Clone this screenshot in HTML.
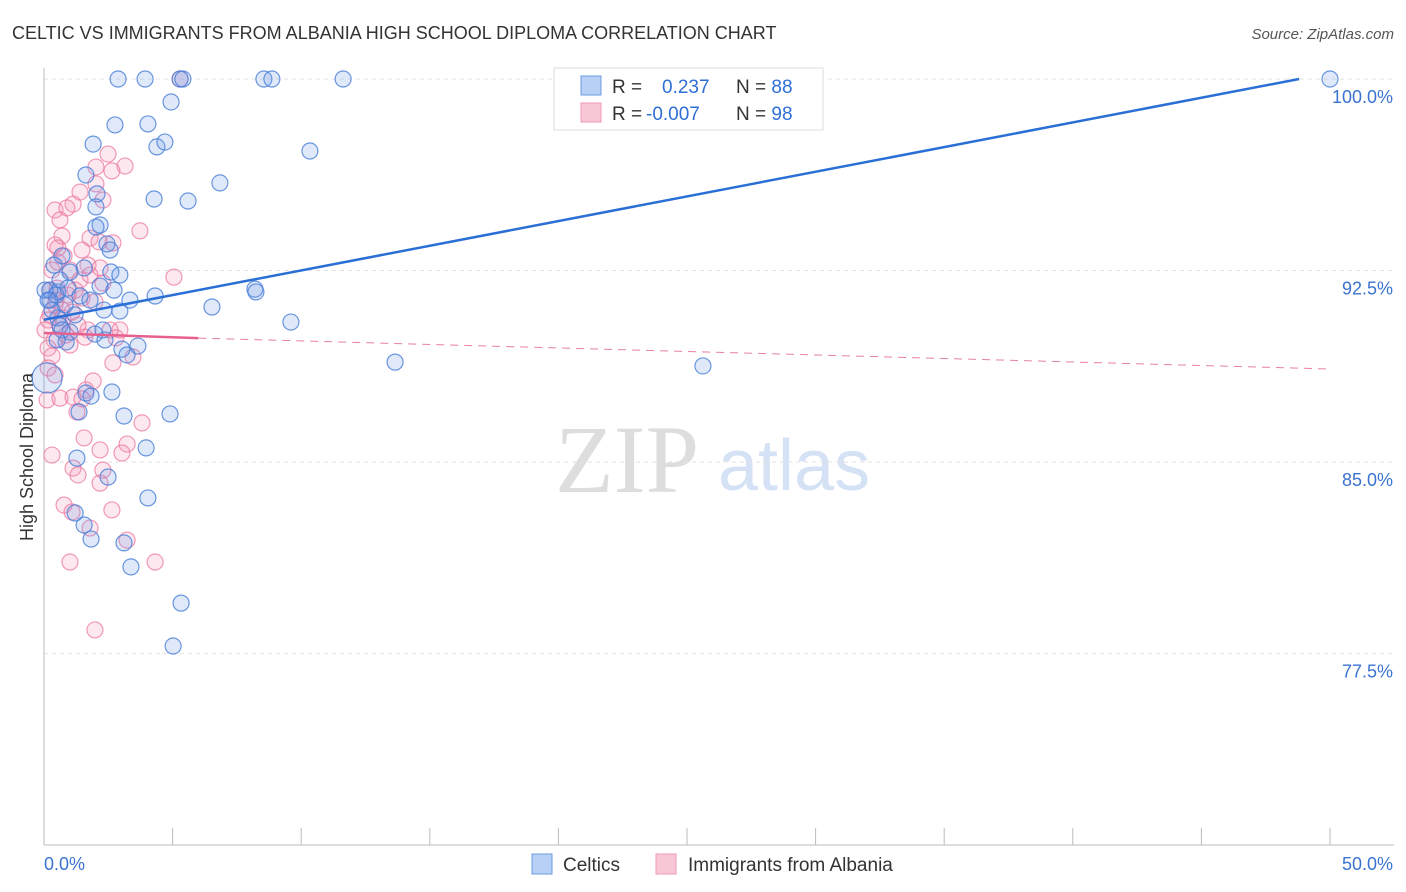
<!DOCTYPE html>
<html><head><meta charset="utf-8">
<style>
body{margin:0;background:#fff;font-family:"Liberation Sans",sans-serif;}
#wrap{position:relative;width:1406px;height:892px;overflow:hidden;}
</style></head>
<body>
<div id="wrap">
<svg id="svg" width="1406" height="892" xmlns="http://www.w3.org/2000/svg">
<text x="12" y="39" font-size="18" fill="#333">CELTIC VS IMMIGRANTS FROM ALBANIA HIGH SCHOOL DIPLOMA CORRELATION CHART</text>
<text x="1394" y="39" font-size="15" fill="#555" text-anchor="end" font-style="italic">Source: ZipAtlas.com</text>
<text x="33" y="457" font-size="18" fill="#333" text-anchor="middle" transform="rotate(-90 33 457)">High School Diploma</text>
<text x="555" y="492" font-size="96" fill="#ddd" font-family="Liberation Serif,serif">ZIP</text>
<text x="718" y="490" font-size="72" fill="#d5e2f5">atlas</text>
<g id="grid"></g><g id="axes"></g><g id="pts"></g><g id="trend"></g>
<g>
<rect x="554" y="68" width="269" height="62" fill="#fff" stroke="#ddd"/>
<rect x="581" y="76" width="20" height="19" fill="#b8d0f5" stroke="#6a9be0"/>
<rect x="581" y="103" width="20" height="19" fill="#f9c6d6" stroke="#ef9ab8"/>
<text x="612" y="93" font-size="19" fill="#333">R = <tspan x="662" fill="#2f6fd6">0.237</tspan><tspan x="736" fill="#333">N = </tspan><tspan fill="#2f6fd6">88</tspan></text>
<text x="612" y="120" font-size="19" fill="#333">R = <tspan x="646" fill="#2f6fd6">-0.007</tspan><tspan x="736" fill="#333">N = </tspan><tspan fill="#2f6fd6">98</tspan></text>
</g>
<g>
<rect x="532" y="854" width="20" height="20" fill="#b8d0f5" stroke="#6a9be0"/>
<text x="563" y="871" font-size="19" fill="#333">Celtics</text>
<rect x="656" y="854" width="20" height="20" fill="#f9c6d6" stroke="#ef9ab8"/>
<text x="688" y="871" font-size="19" fill="#333">Immigrants from Albania</text>
</g>
</svg>
</div>
<script>
const yTicks=[100,92.5,85,77.5];
const yTickLabels=["100.0%","92.5%","85.0%","77.5%"];
const xTicks=[0,5,10,15,20,25,30,35,40,45,50];
const blueX=[2.88,3.93,5.29,5.40,8.55,8.86,11.63,50,4.94,2.76,4.04,1.91,4.39,4.70,10.34,1.63,6.84,2.06,4.28,5.60,2.02,2.18,2.02,2.45,2.57,0.70,0.39,1.56,1.01,2.60,2.95,2.18,0.23,0.54,2.72,4.32,3.34,8.20,8.24,6.53,2.33,2.95,9.60,0.62,1.01,2.29,1.98,0.86,2.37,3.03,3.65,3.23,13.65,25.62,1.63,1.83,2.64,1.36,3.11,4.90,1.28,3.97,2.49,4.04,1.56,1.21,1.83,3.11,3.38,5.33,5.02,0.23,0.47,0.82,1.21,0.54,0.31,0.04,0.16,0.62,0.93,1.40,1.79,0.70,0.51,0.12];
const blueY=[100,100,100,100,100,100,100,100,99.10,98.20,98.24,97.45,97.34,97.53,97.18,96.24,95.93,95.50,95.30,95.22,94.99,94.28,94.20,93.54,93.30,93.07,92.71,92.60,92.44,92.44,92.32,91.89,91.73,91.66,91.73,91.50,91.34,91.77,91.66,91.07,90.95,90.91,90.48,90.33,90.09,90.17,90.01,89.70,89.78,89.42,89.54,89.19,88.91,88.76,87.70,87.58,87.74,86.96,86.80,86.88,85.15,85.55,84.41,83.59,82.53,83.00,81.98,81.83,80.89,79.47,77.79,91.34,91.54,91.15,90.76,90.64,90.95,91.73,91.34,92.13,91.81,91.50,91.34,90.17,89.78,88.29];
const pinkX=[5.29,2.49,2.02,3.15,2.64,2.02,1.40,0.43,1.13,0.89,2.29,0.62,3.73,1.79,0.70,2.14,2.68,0.54,0.78,5.05,0.31,1.71,1.01,1.40,2.29,0.51,0.93,1.48,1.98,0.43,0.23,0.74,1.09,1.71,2.95,1.59,2.80,0.39,1.01,3.46,0.16,0.31,2.68,1.91,0.16,0.43,0.12,0.62,1.63,1.13,1.48,1.28,3.81,1.56,3.23,3.03,2.18,0.31,1.13,2.29,1.32,2.18,0.78,2.64,1.09,1.79,3.23,4.32,1.01,1.98,0.16,0.62,0.86,1.21,1.79,2.18,0.04,0.47,0.70,1.32,2.57,0.23,0.54,1.48,0.43];
const pinkY=[100,97.06,96.55,96.59,96.40,95.89,95.57,94.87,95.10,94.95,95.26,94.48,94.05,93.77,93.85,93.62,93.58,93.38,93.07,92.24,92.52,92.71,92.52,92.13,92.01,91.81,91.54,91.42,91.27,91.15,90.76,90.64,90.87,90.17,90.17,89.89,89.86,89.78,89.58,89.11,89.46,89.15,88.88,88.17,88.68,88.41,87.43,87.50,87.82,87.54,87.47,86.96,86.53,85.94,85.70,85.35,85.47,85.27,84.76,84.68,84.49,84.17,83.31,83.12,83.04,82.41,81.94,81.08,81.08,78.42,90.56,90.36,89.97,91.73,92.32,92.60,90.17,91.34,90.95,90.36,90.17,91.73,92.83,93.30,93.50];
const blueTrend=[[0,90.57],[48.8,100]];
const pinkTrend=[[0,90.05],[6,89.85],[50,88.64]];
const NS="http://www.w3.org/2000/svg";
const X=v=>44+v*25.72, Y=v=>79+(100-v)*25.53;
function mk(t,a,p){const e=document.createElementNS(NS,t);for(const k in a)e.setAttribute(k,a[k]);p.appendChild(e);return e;}
const grid=document.getElementById('grid'),axes=document.getElementById('axes'),pts=document.getElementById('pts'),tr=document.getElementById('trend');
yTicks.forEach((v,i)=>{
 const l=mk('line',{x1:44,x2:1394,y1:Y(v),y2:Y(v),stroke:'#e2e2e2','stroke-dasharray':'4 4'},grid);
 
 
 const t=mk('text',{x:1393,y:Y(v)+24,'font-size':18,fill:'#3b73d0','text-anchor':'end'},axes);
 t.textContent=yTickLabels[i];
 
 
});
const ax=mk('line',{x1:44,x2:44,y1:68,y2:845,stroke:'#bbb'},axes);


const bx=mk('line',{x1:44,x2:1394,y1:845,y2:845,stroke:'#bbb'},axes);


xTicks.forEach(v=>{const l=mk('line',{x1:X(v),x2:X(v),y1:828,y2:845,stroke:'#bbb'},axes);
 
 });
const xl0=mk('text',{x:44,y:870,'font-size':18,fill:'#3b73d0'},axes);xl0.textContent='0.0%';


const xl1=mk('text',{x:1393,y:870,'font-size':18,fill:'#3b73d0','text-anchor':'end'},axes);xl1.textContent='50.0%';


pinkX.forEach((x,i)=>{const c=mk('circle',{cx:X(x),cy:Y(pinkY[i]),r:8,fill:'rgba(244,150,180,0.22)',stroke:'rgba(236,120,160,0.75)','stroke-width':1.2},pts);
 
 });
blueX.forEach((x,i)=>{const c=mk('circle',{cx:X(x),cy:Y(blueY[i]),r:i==blueX.length-1?15:8,fill:'rgba(110,155,230,0.22)',stroke:'rgba(70,125,215,0.8)','stroke-width':1.2},pts);
 
 });
const bl=mk('line',{x1:X(blueTrend[0][0]),y1:Y(blueTrend[0][1]),x2:X(blueTrend[1][0]),y2:Y(blueTrend[1][1]),stroke:'#2a6fd6','stroke-width':2.5},tr);


const p1=mk('line',{x1:X(pinkTrend[0][0]),y1:Y(pinkTrend[0][1]),x2:X(pinkTrend[1][0]),y2:Y(pinkTrend[1][1]),stroke:'#e8608e','stroke-width':2.5},tr);


const p2=mk('line',{x1:X(pinkTrend[1][0]),y1:Y(pinkTrend[1][1]),x2:X(pinkTrend[2][0]),y2:Y(pinkTrend[2][1]),stroke:'#e8809e','stroke-width':1,'stroke-dasharray':'8 6'},tr);


</script>
</body></html>
